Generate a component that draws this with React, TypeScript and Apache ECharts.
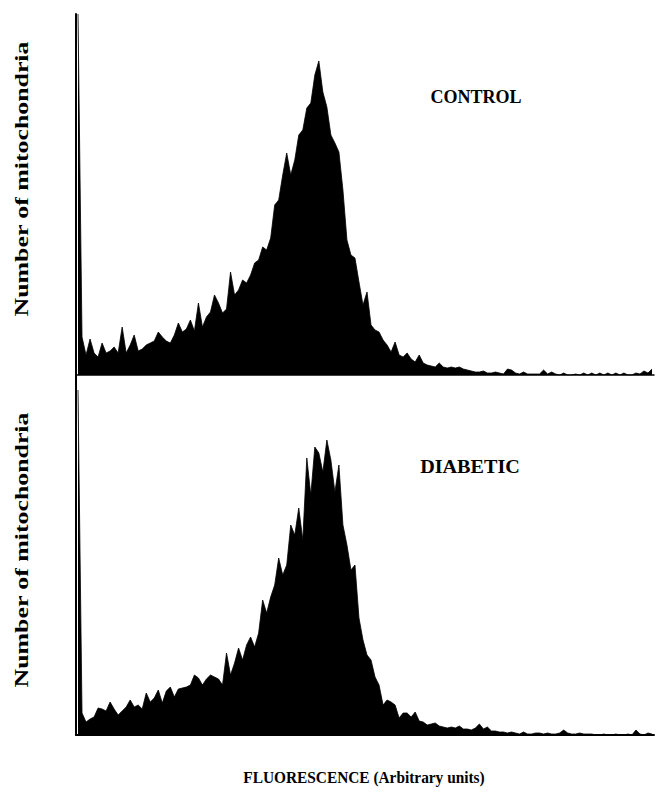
import React, { useEffect, useRef } from "react";
import * as echarts from "echarts";

// Histogram bin counts (arbitrary fluorescence channels, 144 bins)
const controlCounts = [
  361, 38, 20, 36, 22, 18, 32, 22, 24, 28, 22, 48, 22, 30, 40, 24, 26, 30, 32, 34,
  43, 38, 34, 32, 40, 52, 43, 46, 55, 44, 72, 48, 58, 63, 80, 72, 62, 66, 103, 80,
  85, 95, 92, 100, 112, 115, 128, 125, 137, 170, 175, 200, 222, 200, 215, 240, 245, 267, 272, 300,
  314, 283, 268, 240, 232, 223, 185, 135, 120, 117, 93, 70, 83, 50, 45, 43, 35, 30, 23, 33,
  20, 18, 22, 16, 13, 20, 12, 10, 9, 8, 12, 8, 7, 8, 7, 8, 6, 5, 4, 3,
  3, 4, 2, 2, 3, 2, 1, 6, 5, 2, 1, 3, 1, 1, 1, 1, 5, 1, 3, 1,
  0, 2, 0, 0, 1, 0, 2, 0, 2, 0, 2, 0, 2, 0, 2, 0, 2, 0, 0, 2,
  1, 4, 2, 6,
];

const diabeticCounts = [
  345, 22, 13, 16, 18, 27, 26, 24, 33, 26, 20, 24, 28, 35, 28, 30, 26, 42, 33, 37,
  45, 32, 44, 48, 38, 46, 47, 48, 50, 60, 57, 50, 56, 60, 58, 56, 50, 82, 60, 72,
  87, 75, 90, 98, 88, 102, 135, 122, 138, 150, 177, 160, 170, 210, 200, 227, 195, 277, 240, 288,
  282, 263, 295, 275, 243, 270, 210, 190, 165, 170, 117, 95, 80, 75, 58, 50, 30, 35, 33, 30,
  17, 22, 22, 18, 23, 14, 13, 10, 11, 12, 9, 8, 7, 8, 7, 9, 6, 6, 5, 7,
  11, 6, 8, 4, 4, 3, 3, 2, 3, 2, 1, 3, 1, 1, 2, 2, 1, 2, 1, 1,
  2, 5, 2, 1, 1, 2, 1, 1, 1, 0, 0, 1, 0, 0, 1, 0, 0, 1, 0, 5,
  1, 0, 2, 1,
];

const panelLabels = ["CONTROL", "DIABETIC"];
const yAxisTitle = "Number of mitochondria";
const xAxisTitle = "FLUORESCENCE (Arbitrary units)";
const channelMax = 144;

const SERIF = '"Liberation Serif", "Times New Roman", serif';

export default function App() {
  const ref = useRef<HTMLDivElement>(null);

  useEffect(() => {
    if (!ref.current) return;
    const chart = echarts.init(ref.current, undefined, { renderer: "svg" });

    const toPairs = (arr: number[]) => arr.map((v, i) => [i + 0.5, v]);

    const axisLine = { show: true, lineStyle: { color: "#000", width: 2 } };
    const hiddenParts = {
      axisTick: { show: false },
      axisLabel: { show: false },
      splitLine: { show: false },
    };

    const seriesStyle = {
      type: "line" as const,
      showSymbol: false,
      symbol: "none",
      lineStyle: { color: "#000", width: 0.8 },
      areaStyle: { color: "#000", opacity: 1 },
      silent: true,
    };

    chart.setOption({
      animation: false,
      backgroundColor: "#fff",
      grid: [
        { left: 76, top: 14, width: 578, height: 361 },
        { left: 76, top: 375, width: 578, height: 360 },
      ],
      xAxis: [
        { type: "value", gridIndex: 0, min: 0, max: channelMax, axisLine: { show: true, lineStyle: { color: "#000", width: 1.5 } }, ...hiddenParts },
        { type: "value", gridIndex: 1, min: 0, max: channelMax, axisLine, ...hiddenParts },
      ],
      yAxis: [
        { type: "value", gridIndex: 0, min: 0, max: 361, axisLine, ...hiddenParts },
        { type: "value", gridIndex: 1, min: 0, max: 360, axisLine, ...hiddenParts },
      ],
      series: [
        { ...seriesStyle, name: panelLabels[0], xAxisIndex: 0, yAxisIndex: 0, data: toPairs(controlCounts) },
        { ...seriesStyle, name: panelLabels[1], xAxisIndex: 1, yAxisIndex: 1, data: toPairs(diabeticCounts) },
      ],
      graphic: [
        {
          type: "text", x: 476, y: 97,
          style: { text: panelLabels[0], font: `bold 18px ${SERIF}`, fill: "#000", textAlign: "center", textVerticalAlign: "middle" },
        },
        {
          type: "text", x: 470, y: 467, scaleX: 1.12,
          style: { text: panelLabels[1], font: `bold 18px ${SERIF}`, fill: "#000", textAlign: "center", textVerticalAlign: "middle" },
        },
        {
          type: "text", x: 22, y: 179, rotation: Math.PI / 2, scaleX: 1.36,
          style: { text: yAxisTitle, font: `bold 19px ${SERIF}`, fill: "#000", textAlign: "center", textVerticalAlign: "middle" },
        },
        {
          type: "text", x: 22, y: 550, rotation: Math.PI / 2, scaleX: 1.36,
          style: { text: yAxisTitle, font: `bold 19px ${SERIF}`, fill: "#000", textAlign: "center", textVerticalAlign: "middle" },
        },
        {
          type: "text", x: 364, y: 777, scaleX: 0.96,
          style: { text: xAxisTitle, font: `bold 16px ${SERIF}`, fill: "#000", textAlign: "center", textVerticalAlign: "middle" },
        },
      ],
    });

    return () => chart.dispose();
  }, []);

  return <div ref={ref} style={{ width: 658, height: 795, position: "absolute", left: 0, top: 0 }} />;
}
